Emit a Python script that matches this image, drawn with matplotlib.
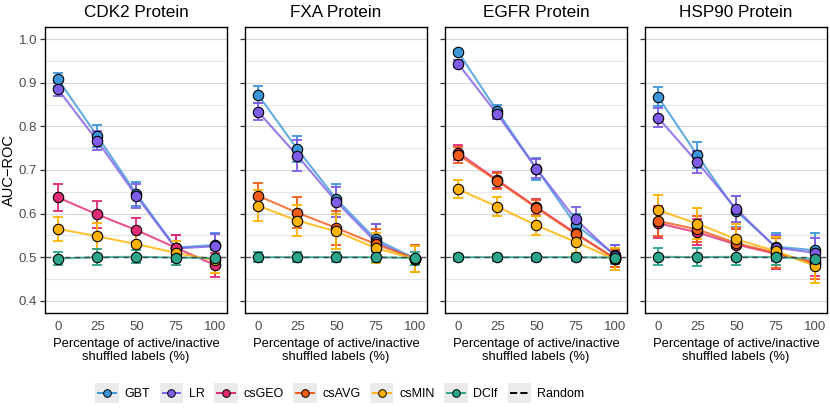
import numpy as np
import matplotlib
matplotlib.use('Agg')
import matplotlib.pyplot as plt
from matplotlib.legend_handler import HandlerBase
from matplotlib.lines import Line2D
from matplotlib.patches import Rectangle

plt.rcParams['font.family'] = ['Liberation Sans', 'DejaVu Sans']

# Data

PROTEINS = ['CDK2 Protein', 'FXA Protein', 'EGFR Protein', 'HSP90 Protein']
SHUFFLED = [0, 25, 50, 75, 100]
MODELS = ['GBT', 'LR', 'csGEO', 'csAVG', 'csMIN', 'DClf']
COLORS = ['#3C97DA', '#7E5CE8', '#E02B75', '#F25C19', '#FFB300', '#2CA58D']
NA = [np.nan] * 5

# one row per protein (CDK2, FXA, EGFR, HSP90)
gbt_mean = [[0.908, 0.778, 0.645, 0.522, 0.528],
            [0.873, 0.748, 0.633, 0.541, 0.497],
            [0.971, 0.835, 0.703, 0.574, 0.506],
            [0.868, 0.734, 0.605, 0.524, 0.516]]
gbt_err = [[0.015, 0.025, 0.028, 0.030, 0.028],
           [0.020, 0.030, 0.035, 0.035, 0.030],
           [0.005, 0.015, 0.025, 0.025, 0.022],
           [0.022, 0.030, 0.035, 0.032, 0.040]]

lr_mean = [[0.885, 0.767, 0.640, 0.520, 0.525],
           [0.834, 0.733, 0.627, 0.535, 0.495],
           [0.944, 0.828, 0.703, 0.587, 0.503],
           [0.820, 0.718, 0.610, 0.522, 0.510]]
lr_err = [[0.015, 0.022, 0.028, 0.030, 0.028],
          [0.020, 0.035, 0.035, 0.040, 0.030],
          [0.008, 0.012, 0.022, 0.028, 0.025],
          [0.022, 0.025, 0.030, 0.030, 0.035]]

csgeo_mean = [[0.637, 0.598, 0.562, 0.522, 0.482],
              NA,
              [0.740, 0.677, 0.615, 0.555, 0.497],
              [0.578, 0.557, 0.529, 0.508, 0.488]]
csgeo_err = [[0.032, 0.032, 0.028, 0.030, 0.028],
             NA,
             [0.018, 0.018, 0.018, 0.020, 0.020],
             [0.035, 0.030, 0.035, 0.035, 0.030]]

csavg_mean = [NA,
              [0.641, 0.602, 0.567, 0.530, 0.497],
              [0.735, 0.675, 0.613, 0.553, 0.497],
              [0.583, 0.564, 0.532, 0.510, 0.485]]
csavg_err = [NA,
             [0.030, 0.035, 0.040, 0.035, 0.030],
             [0.018, 0.018, 0.018, 0.020, 0.020],
             [0.035, 0.030, 0.035, 0.035, 0.035]]

csmin_mean = [[0.565, 0.548, 0.530, 0.510, 0.493],
              [0.618, 0.584, 0.559, 0.521, 0.496],
              [0.656, 0.616, 0.573, 0.535, 0.495],
              [0.608, 0.577, 0.541, 0.514, 0.480]]
csmin_err = [[0.028, 0.030, 0.030, 0.028, 0.030],
             [0.035, 0.035, 0.040, 0.035, 0.030],
             [0.020, 0.022, 0.022, 0.025, 0.025],
             [0.035, 0.035, 0.035, 0.032, 0.040]]

dclf_mean = [[0.497, 0.500, 0.501, 0.499, 0.498],
             [0.500, 0.500, 0.500, 0.500, 0.498],
             [0.500, 0.500, 0.500, 0.500, 0.499],
             [0.501, 0.500, 0.501, 0.500, 0.496]]
dclf_err = [[0.015, 0.018, 0.015, 0.018, 0.018],
            [0.012, 0.012, 0.012, 0.012, 0.015],
            [0.008, 0.008, 0.008, 0.008, 0.010],
            [0.020, 0.020, 0.020, 0.018, 0.020]]

RANDOM = 0.5

MEANS = [gbt_mean, lr_mean, csgeo_mean, csavg_mean, csmin_mean, dclf_mean]
ERRS = [gbt_err, lr_err, csgeo_err, csavg_err, csmin_err, dclf_err]


class KeyHandler(HandlerBase):

    '''
    Draws a ggplot style legend key: grey square with the line and point.
    '''

    def create_artists(self, legend, orig_handle, xdescent, ydescent,
                       width, height, fontsize, trans):
        pad = 2
        rect = Rectangle((-xdescent - pad, -ydescent - pad), width + 2 * pad,
                         height + 2 * pad, fc='#EBEBEB', ec='none', transform=trans)
        ymid = -ydescent + height / 2
        line = Line2D([-xdescent, -xdescent + width], [ymid, ymid],
                      color=orig_handle.get_color(), lw=1.4,
                      ls=orig_handle.get_linestyle(), transform=trans)
        arts = [rect, line]
        if orig_handle.get_marker() not in (None, 'None', ''):
            pt = Line2D([-xdescent + width / 2], [ymid], marker='o', ms=5.5,
                        mfc=orig_handle.get_color(), mec='black', mew=0.7,
                        ls='none', transform=trans)
            arts.append(pt)
        return arts


fig = plt.figure(figsize=(8.3, 4.09), dpi=100)

W, H = 830, 409
left0, pw, gap = 45, 182, 18
top, bottom = 27, 313

axes = []
for i, name in enumerate(PROTEINS):
    x0 = left0 + i * (pw + gap)
    ax = fig.add_axes([x0 / W, (H - bottom) / H, pw / W, (bottom - top) / H])
    axes.append(ax)

    ax.set_ylim(0.372, 1.028)
    ax.set_xlim(-8.3, 107.7)
    ax.set_yticks([0.4, 0.5, 0.6, 0.7, 0.8, 0.9, 1.0])
    ax.set_yticks([0.45, 0.55, 0.65, 0.75, 0.85, 0.95], minor=True)
    ax.set_xticks(SHUFFLED)
    ax.grid(axis='y', which='major', color='#D9D9D9', lw=0.9)
    ax.grid(axis='y', which='minor', color='#E6E6E6', lw=0.8)
    ax.set_axisbelow(True)
    for s in ax.spines.values():
        s.set_color('black')
        s.set_linewidth(1.0)
    ax.tick_params(axis='y', which='major', length=3.5, width=0.9,
                   color='#333333', labelsize=9.5, labelcolor='#4D4D4D', pad=2)
    ax.tick_params(axis='y', which='minor', length=0)
    ax.tick_params(axis='x', length=0, labelsize=9.5, labelcolor='#4D4D4D', pad=6)
    if i > 0:
        ax.tick_params(axis='y', labelleft=False)
    else:
        ax.set_ylabel('AUC\u2212ROC', fontsize=10.5, labelpad=2)

    ax.set_title(name, fontsize=12.3, pad=7)
    ax.set_xlabel('Percentage of active/inactive\nshuffled labels (%)',
                  fontsize=9.4, labelpad=3, linespacing=1.2)

    # lines, then error bars, then points (ggplot layer order)
    for m, col in enumerate(COLORS):
        ax.plot(SHUFFLED, MEANS[m][i], color=col, lw=1.5, alpha=0.8, zorder=2)
    ax.axhline(RANDOM, color='#333333', ls=(0, (4, 3)), lw=1.0, alpha=0.8, zorder=2.5)
    for m, col in enumerate(COLORS):
        ax.errorbar(SHUFFLED, MEANS[m][i], yerr=ERRS[m][i], fmt='none',
                    ecolor=col, elinewidth=1.3, capsize=3.5, capthick=1.3, zorder=3)
    for m, col in enumerate(COLORS):
        ax.plot(SHUFFLED, MEANS[m][i], ls='none', marker='o', ms=7.5, mfc=col,
                mec='black', mew=0.8, zorder=4)

handles = [Line2D([], [], color=c, marker='o') for c in COLORS]
handles.append(Line2D([], [], color='black', ls=(0, (2, 1.5)), marker='None'))
labels = MODELS + ['Random']
fig.legend(handles, labels, loc='center left', bbox_to_anchor=(87 / W, 16 / H),
           ncol=7, frameon=False, fontsize=9, handlelength=1.4,
           handleheight=1.4, handletextpad=0.7, columnspacing=1.0,
           handler_map={Line2D: KeyHandler()})

fig.savefig('out.png', dpi=100)
